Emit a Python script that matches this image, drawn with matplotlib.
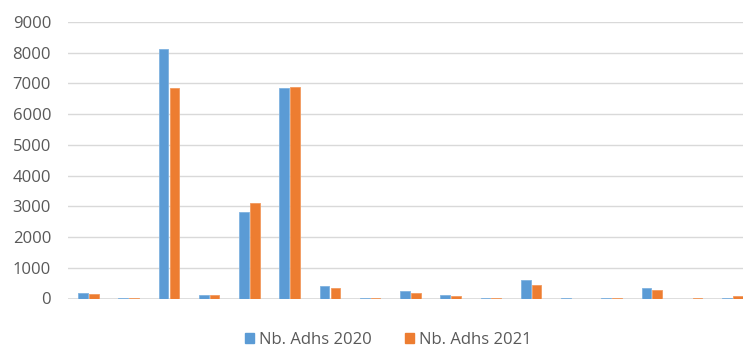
import matplotlib
matplotlib.use("Agg")
import matplotlib.pyplot as plt
from matplotlib.patches import Patch
import numpy as np

plt.rcParams['font.family'] = ['Open Sans', 'DejaVu Sans']

categories = [f"C{i}" for i in range(1, 18)]
adhs_2020 = [195, 20, 8110, 130, 2830, 6850, 400, 20, 250, 130, 20, 615, 20, 20, 345, 0, 20]
adhs_2021 = [140, 20, 6850, 130, 3100, 6890, 345, 20, 195, 85, 20, 455, 0, 20, 290, 20, 85]
series_labels = ["Nb. Adhs 2020", "Nb. Adhs 2021"]
y_ticks = list(range(0, 10000, 1000))

blue = "#5B9BD5"
orange = "#ED7D31"
grid_c = "#D9D9D9"
text_c = "#595959"

W, H = 743, 349
fig = plt.figure(figsize=(W / 100, H / 100), dpi=100)
ax = fig.add_axes([68.4 / W, 50.5 / H, 684 / W, 276.5 / H])

x = np.arange(len(categories))
bw = 0.24
off = 0.135
ax.bar(x - off, adhs_2020, width=bw, color=blue, edgecolor="#7FB2E0", linewidth=0.6, zorder=3)
ax.bar(x + off, adhs_2021, width=bw, color=orange, edgecolor="#F29A5E", linewidth=0.6, zorder=3)

ax.set_xlim(-0.5, len(categories) - 0.5)
ax.set_ylim(0, 9000)
ax.set_yticks(y_ticks)
ax.set_yticklabels([str(v) for v in y_ticks])
ax.set_xticks([])
ax.yaxis.grid(True, color=grid_c, linewidth=1.0, zorder=0)
for s in ax.spines.values():
    s.set_visible(False)
ax.axhline(0, color=grid_c, linewidth=1.2, zorder=2)
ax.tick_params(axis="y", length=0, pad=12.5, labelsize=12, labelcolor=text_c)

handles = [Patch(facecolor=blue, edgecolor=blue), Patch(facecolor=orange, edgecolor=orange)]
fig.legend(handles, series_labels, loc="center", bbox_to_anchor=(388.5 / W, 9.5 / H),
           ncol=2, frameon=False, fontsize=12, labelcolor=text_c,
           handlelength=0.55, handleheight=0.55, handletextpad=0.3, columnspacing=2.0)

fig.savefig("out.png", dpi=100)
